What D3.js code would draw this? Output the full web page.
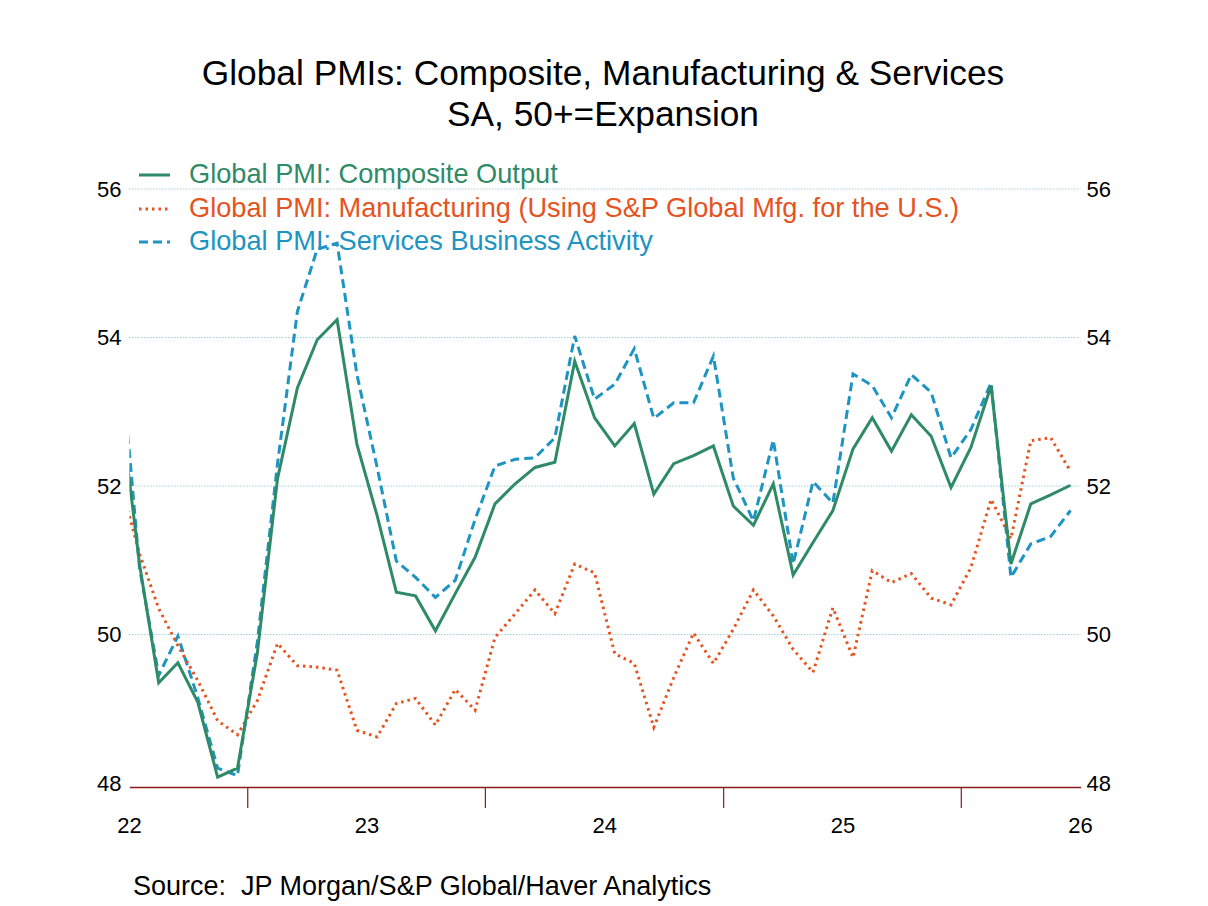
<!DOCTYPE html>
<html>
<head>
<meta charset="utf-8">
<script src="https://cdn.jsdelivr.net/npm/d3@7"></script>
<style>
  body { margin: 0; background: #fff; }
  svg text { font-family: "Liberation Sans", Arial, sans-serif; }
</style>
</head>
<body>
<script>
// monthly observations, Dec 2021 .. Dec 2025 (first point only shows as the clipped edge)
var months = ["2021-12",
  "2022-01","2022-02","2022-03","2022-04","2022-05","2022-06","2022-07","2022-08","2022-09","2022-10","2022-11","2022-12",
  "2023-01","2023-02","2023-03","2023-04","2023-05","2023-06","2023-07","2023-08","2023-09","2023-10","2023-11","2023-12",
  "2024-01","2024-02","2024-03","2024-04","2024-05","2024-06","2024-07","2024-08","2024-09","2024-10","2024-11","2024-12",
  "2025-01","2025-02","2025-03","2025-04","2025-05","2025-06","2025-07","2025-08","2025-09","2025-10","2025-11","2025-12"];

var composite = [53.2,
  50.95,49.35,49.62,49.09,48.08,48.2,49.75,52.1,53.32,53.97,54.24,52.56,
  51.6,50.57,50.52,50.05,50.55,51.04,51.76,52.03,52.25,52.32,53.68,52.92,
  52.54,52.84,51.89,52.3,52.41,52.54,51.73,51.47,52.03,50.8,51.24,51.67,
  52.5,52.92,52.47,52.96,52.67,51.98,52.52,53.35,50.95,51.76,51.88,52.01];

var manufacturing = [52.1,
  51.09,50.35,49.85,49.38,48.84,48.65,49.11,49.88,49.58,49.56,49.52,48.71,
  48.62,49.07,49.14,48.78,49.26,48.98,49.96,50.28,50.6,50.28,50.95,50.83,
  49.74,49.61,48.75,49.42,50.02,49.61,50.07,50.6,50.25,49.8,49.49,50.36,
  49.69,50.86,50.7,50.82,50.49,50.4,50.9,51.82,51.29,52.61,52.65,52.2];

var services = [54.0,
  50.9,49.45,49.98,49.15,48.2,48.1,49.9,52.3,54.35,55.19,55.27,53.5,
  52.25,50.99,50.77,50.5,50.73,51.55,52.27,52.36,52.38,52.65,54.02,53.17,
  53.37,53.85,52.91,53.12,53.12,53.75,52.11,51.53,52.62,50.95,52.06,51.77,
  53.51,53.35,52.92,53.5,53.26,52.38,52.76,53.39,50.77,51.22,51.32,51.67];

var seriesNames = ["Global PMI: Composite Output",
  "Global PMI: Manufacturing (Using S&P Global Mfg. for the U.S.)",
  "Global PMI: Services Business Activity"];
var yTicks = [48, 50, 52, 54, 56];
var yearLabels = ["22", "23", "24", "25", "26"];

var width = 1208, height = 906;
var plotLeft = 129.4, plotRight = 1080.6, plotTop = 189, plotBottom = 783;

var svg = d3.select("body").append("svg")
    .attr("width", width)
    .attr("height", height);

var parseMonth = d3.timeParse("%Y-%m");
// plot each month in the middle of the month
function midMonth(s) {
    var d = parseMonth(s);
    return new Date(d.getTime() + (d3.timeMonth.offset(d, 1) - d) / 2);
}

var x = d3.scaleTime()
    .domain([new Date(2022, 0, 1), new Date(2026, 0, 1)])
    .range([plotLeft, plotRight]);
var y = d3.scaleLinear().domain([48, 56]).range([plotBottom, plotTop]);

// titles
svg.append("text").attr("x", 603).attr("y", 85).attr("text-anchor", "middle")
    .attr("font-size", 35.3).text("Global PMIs: Composite, Manufacturing & Services");
svg.append("text").attr("x", 603).attr("y", 126).attr("text-anchor", "middle")
    .attr("font-size", 35.3).text("SA, 50+=Expansion");

// dotted grid
svg.append("g").selectAll("line").data(yTicks.filter(function(d) { return d > 48; }))
    .enter().append("line")
    .attr("x1", plotLeft).attr("x2", plotRight)
    .attr("y1", function(d) { return y(d); }).attr("y2", function(d) { return y(d); })
    .attr("stroke", "#6fb6cc").attr("stroke-width", 1).attr("stroke-dasharray", "1,2");

// y labels both sides
var yAxisL = d3.axisLeft(y).tickValues(yTicks).tickSize(0).tickPadding(8);
var yAxisR = d3.axisRight(y).tickValues(yTicks).tickSize(0).tickPadding(6);
[svg.append("g").attr("transform", "translate(" + plotLeft + ",0)").call(yAxisL),
 svg.append("g").attr("transform", "translate(" + plotRight + ",0)").call(yAxisR)].forEach(function(g) {
    g.select(".domain").remove();
    g.selectAll("text").attr("font-size", 22).attr("fill", "#000")
        .attr("font-family", "Liberation Sans, Arial, sans-serif");
});

// x axis: line a little under 48, ticks at mid-year, year labels at Jan
var axisY = plotBottom + 4;
var xAxis = d3.axisBottom(x)
    .tickValues(d3.range(2022, 2026).map(function(yr) { return new Date(yr, 6, 1); }))
    .tickSize(21).tickFormat("").tickSizeOuter(0);
var gx = svg.append("g").attr("transform", "translate(0," + axisY + ")").call(xAxis);
gx.select(".domain").attr("stroke", "#8b1a1a").attr("stroke-width", 1.5);
gx.selectAll(".tick line").attr("stroke", "#8b1a1a").attr("stroke-width", 1.2);

svg.append("g").selectAll("text").data(yearLabels).enter().append("text")
    .attr("x", function(d, i) { return x(new Date(2022 + i, 0, 1)); })
    .attr("y", 833)
    .attr("text-anchor", "middle")
    .attr("font-size", 22)
    .text(function(d) { return d; });

// lines
svg.append("clipPath").attr("id", "plot")
    .append("rect").attr("x", plotLeft).attr("y", 0)
    .attr("width", plotRight - plotLeft).attr("height", height);

var series = [
    {name: seriesNames[0], values: composite, color: "#2f8a67", dash: null},
    {name: seriesNames[1], values: manufacturing, color: "#e5531f", dash: "2.5,4"},
    {name: seriesNames[2], values: services, color: "#1d94c2", dash: "9,5"}
];

var line = d3.line()
    .x(function(d, i) { return x(midMonth(months[i])); })
    .y(function(d) { return y(d); });

var plot = svg.append("g").attr("clip-path", "url(#plot)");
// draw order: services, manufacturing, composite on top
[2, 1, 0].forEach(function(k) {
    var s = series[k];
    plot.append("path")
        .attr("d", line(s.values))
        .attr("fill", "none")
        .attr("stroke", s.color)
        .attr("stroke-width", 3)
        .attr("stroke-dasharray", s.dash)
        .attr("stroke-linejoin", "miter");
});

// legend
var legendRows = [174, 208, 241];
var legend = svg.append("g");
series.forEach(function(s, i) {
    legend.append("line")
        .attr("x1", 139).attr("x2", 170)
        .attr("y1", legendRows[i] + 1).attr("y2", legendRows[i] + 1)
        .attr("stroke", s.color).attr("stroke-width", 3)
        .attr("stroke-dasharray", s.dash);
    legend.append("text")
        .attr("x", 189).attr("y", legendRows[i] + 9)
        .attr("font-size", 27.2)
        .attr("fill", s.color)
        .text(s.name);
});

svg.append("text").attr("x", 133).attr("y", 895)
    .attr("font-size", 27)
    .style("white-space", "pre")
    .text("Source:  JP Morgan/S&P Global/Haver Analytics");
</script>
</body>
</html>
